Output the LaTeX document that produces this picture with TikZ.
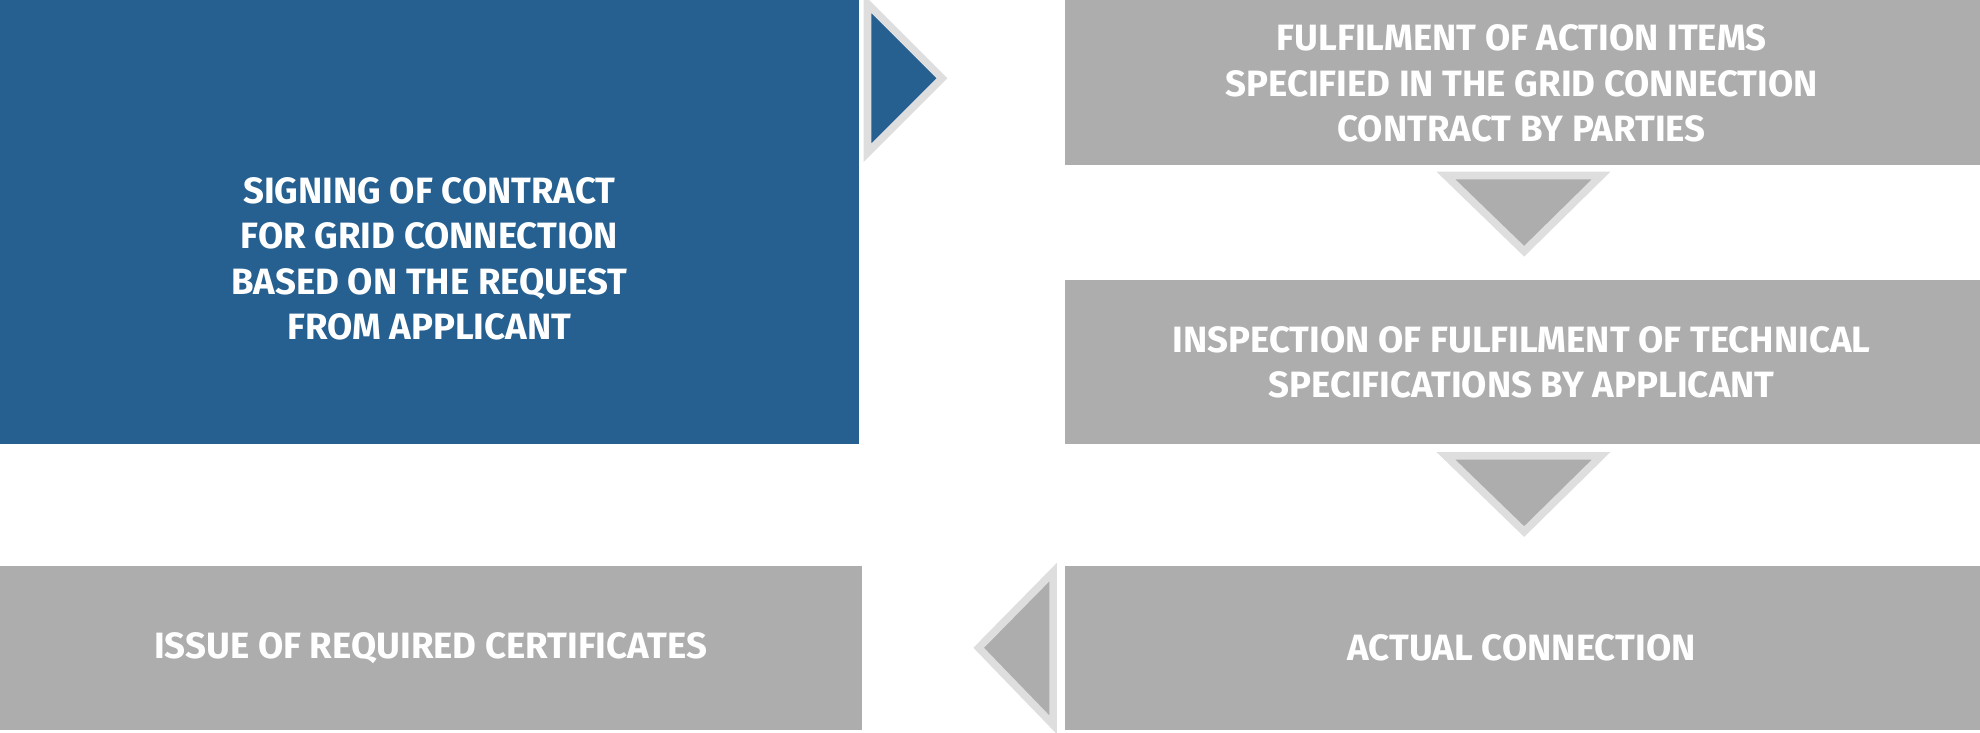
\documentclass[tikz,border=0pt]{standalone}
\usepackage{fontspec}
\setmainfont{Fira Sans}
\begin{document}
\begin{tikzpicture}[x=0.02cm,y=-0.02cm,
  box/.style={fill=#1,draw=none},
  lbl/.style={text=white,font=\fontsize{16.5}{20.5}\selectfont\bfseries,align=center},
  tri/.style={fill=#1,draw=edgegray,line width=0.12cm,line join=miter}]
\definecolor{blueb}{HTML}{256090}
\definecolor{grayb}{HTML}{ADADAD}
\definecolor{edgegray}{HTML}{DEDEDE}
\useasboundingbox (0,0) rectangle (1568,580);
\fill[blueb] (0,0) rectangle (680,352);
\node[lbl] (sign) at (340,205) {SIGNING OF CONTRACT\\FOR GRID CONNECTION\\BASED ON THE REQUEST\\FROM APPLICANT};
\fill[grayb] (843,0) rectangle (1568,131);
\node[lbl] (fulf) at (1205,66) {FULFILMENT OF ACTION ITEMS\\SPECIFIED IN THE GRID CONNECTION\\CONTRACT BY PARTIES};
\fill[grayb] (843,222) rectangle (1568,352);
\node[lbl] (insp) at (1205,287) {INSPECTION OF FULFILMENT OF TECHNICAL\\SPECIFICATIONS BY APPLICANT};
\fill[grayb] (843,448) rectangle (1568,578);
\node[lbl] (act) at (1205,513) {ACTUAL CONNECTION};
\fill[grayb] (0,448) rectangle (683,578);
\node[lbl] (iss) at (341,513) {ISSUE OF REQUIRED CERTIFICATES};
\draw[tri=blueb] (687,3) -- (746,62) -- (687,121) -- cycle;
\draw[tri=grayb] (1145,139) -- (1268,139) -- (1207,199) -- cycle;
\draw[tri=grayb] (1145,361) -- (1268,361) -- (1207,421) -- cycle;
\draw[tri=grayb] (834,453) -- (834,574) -- (775,513) -- cycle;
\end{tikzpicture}
\end{document}
